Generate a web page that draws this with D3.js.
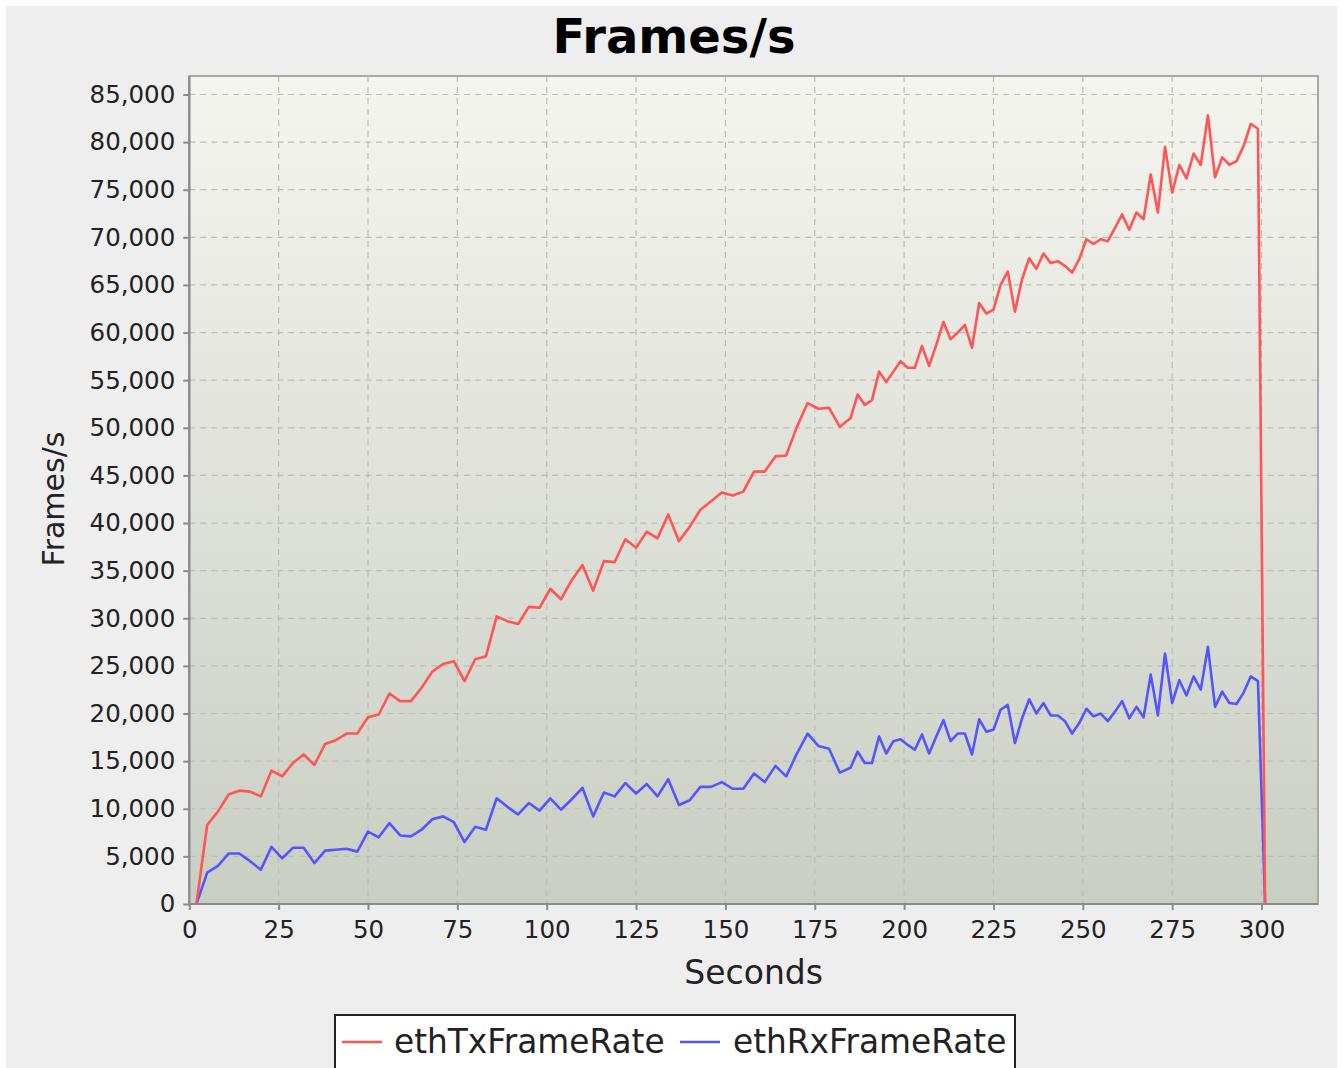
<!DOCTYPE html>
<html>
<head>
<meta charset="utf-8">
<script src="https://cdn.jsdelivr.net/npm/d3@7"></script>
<style>
html,body{margin:0;padding:0;background:#fff;}
svg{display:block;}
</style>
</head>
<body>
<svg id="chart" width="1343" height="1068"></svg>
<script>
// ---- data ----
const times = [2,5,8,11,14,17,20,23,26,29,32,35,38,41,44,47,50,53,56,59,62,65,68,71,74,77,80,83,86,89,
  92,95,98,101,104,107,110,113,116,119,122,125,128,131,134,137,140,143,146,149,152,155,158,161,164,167,170,173,176,179,182,
  185,187,189,191,193,195,197,199,201,203,205,207,209,211,213,215,217,219,221,223,225,227,229,231,233,235,237,239,241,243,
  245,247,249,251,253,255,257,259,261,263,265,267,269,271,273,275,277,279,281,283,285,287,289,291,293,295,297,299,301];

const ethTxFrameRate = [0,8300,9700,11500,11900,11800,11300,14000,13400,14800,15700,14600,16800,17200,17900,17900,19600,19900,22100,21300,
  21300,22700,24400,25200,25500,23400,25700,26000,30200,29700,29400,31200,31100,33100,32000,34000,35600,32900,36000,35900,
  38300,37400,39100,38400,40900,38100,39600,41400,42300,43200,42900,43300,45400,45400,47000,47100,50100,52600,52000,52100,50100,
  51000,53500,52400,52900,55900,54800,55900,57000,56300,56300,58600,56500,58700,61100,59300,60000,60800,58400,63100,62000,
  62400,65000,66400,62200,65600,67800,66700,68300,67300,67500,67000,66300,67700,69800,69300,69800,69600,71000,72400,70800,
  72600,71900,76600,72600,79500,74700,77600,76200,78800,77600,82800,76300,78400,77600,78000,79600,81900,81400,0];

const ethRxFrameRate = [0,3300,4000,5300,5300,4500,3600,6000,4800,5900,5900,4300,5600,5700,5800,5500,7600,7000,8500,7200,
  7100,7800,8900,9200,8600,6500,8100,7800,11100,10200,9400,10600,9800,11100,9900,11000,12200,9200,11700,11300,
  12700,11600,12600,11300,13100,10400,10900,12300,12300,12800,12100,12100,13700,12800,14500,13400,15800,17900,16600,16300,13800,
  14300,16000,14800,14800,17600,15800,17100,17300,16700,16200,17800,15800,17600,19300,17100,17900,17900,15700,19400,18100,
  18300,20400,20900,16900,19500,21500,20000,21100,19800,19800,19200,17900,19000,20500,19700,20000,19200,20200,21300,19500,
  20700,19600,24100,19800,26300,21100,23500,21900,23900,22500,27000,20700,22300,21100,21000,22200,23900,23400,0];

const seriesNames = ["ethTxFrameRate", "ethRxFrameRate"];
const seriesColors = ["#ff5555", "#5555ff"];
const xTicks = [0,25,50,75,100,125,150,175,200,225,250,275,300];
const yTicks = [0,5000,10000,15000,20000,25000,30000,35000,40000,45000,50000,55000,60000,65000,70000,75000,80000,85000];
const chartTitle = "Frames/s";
const xLabel = "Seconds";
const yLabel = "Frames/s";

// ---- layout ----
const svg = d3.select("#chart");
const L = 189.3, R = 1318, T = 76, B = 904;
const x = d3.scaleLinear().domain([0, 315.8]).range([L, R]);
const y = d3.scaleLinear().domain([0, 86940]).range([B, T]);
const FONT = "'DejaVu Sans', Verdana, sans-serif";

svg.append("rect").attr("x",0).attr("y",0).attr("width",1343).attr("height",1068).attr("fill","#ffffff");
svg.append("rect").attr("x",6).attr("y",6).attr("width",1331).attr("height",1070).attr("fill","#eeeeee");

const defs = svg.append("defs");
const grad = defs.append("linearGradient").attr("id","bg").attr("x1",0).attr("y1",0).attr("x2",0).attr("y2",1);
grad.append("stop").attr("offset","0%").attr("stop-color","#f5f5f0");
grad.append("stop").attr("offset","100%").attr("stop-color","#c9cec2");
defs.append("clipPath").attr("id","clip").append("rect")
  .attr("x",L).attr("y",T).attr("width",R-L).attr("height",B-T);

svg.append("rect").attr("x",L).attr("y",T).attr("width",R-L).attr("height",B-T).attr("fill","url(#bg)");

// gridlines
const grid = svg.append("g").attr("stroke","#bbbdb6").attr("stroke-width",1.2).attr("stroke-dasharray","6,5");
grid.selectAll("line.gx").data(xTicks.filter(d=>d>0)).join("line")
  .attr("x1",d=>x(d)).attr("x2",d=>x(d)).attr("y1",T).attr("y2",B);
grid.selectAll("line.gy").data(yTicks.filter(d=>d>0)).join("line")
  .attr("x1",L).attr("x2",R).attr("y1",d=>y(d)).attr("y2",d=>y(d));

// plot outline
svg.append("rect").attr("x",L).attr("y",T).attr("width",R-L).attr("height",B-T)
  .attr("fill","none").attr("stroke","#a8a8a8").attr("stroke-width",2);

// series
const pts = times.map((t,i)=>({t, tx: ethTxFrameRate[i], rx: ethRxFrameRate[i]}));
const gLines = svg.append("g").attr("clip-path","url(#clip)");
const lineRx = d3.line().x(d=>x(d.t)).y(d=>y(d.rx));
const lineTx = d3.line().x(d=>x(d.t)).y(d=>y(d.tx));
gLines.append("path").datum(pts).attr("d",lineRx).attr("fill","none")
  .attr("stroke",seriesColors[1]).attr("stroke-width",2.6).attr("stroke-linejoin","round");
gLines.append("path").datum(pts).attr("d",lineTx).attr("fill","none")
  .attr("stroke",seriesColors[0]).attr("stroke-width",2.6).attr("stroke-linejoin","round");

// axes
const fmt = d3.format(",");
const xAxis = d3.axisBottom(x).tickValues(xTicks).tickSize(6).tickPadding(11).tickFormat(d3.format("d"));
const yAxis = d3.axisLeft(y).tickValues(yTicks).tickSize(6).tickPadding(8).tickFormat(fmt);
const gx = svg.append("g").attr("transform",`translate(0,${B})`).call(xAxis);
const gy = svg.append("g").attr("transform",`translate(${L},0)`).call(yAxis);
[gx,gy].forEach(g=>{
  g.select(".domain").attr("stroke","#8a8a8a").attr("stroke-width",2.2);
  g.selectAll(".tick line").attr("stroke","#8a8a8a").attr("stroke-width",2);
  g.selectAll(".tick text").attr("font-family",FONT).attr("font-size","24.5px").attr("fill","#222");
});
gx.select(".domain").attr("d",`M${L},0H${R}`);
gy.select(".domain").attr("d",`M0,${T}V${B}`);

// titles
svg.append("text").attr("x",674).attr("y",53).attr("text-anchor","middle")
  .attr("font-family",FONT).attr("font-weight","bold").attr("font-size","48px").attr("fill","#000").text(chartTitle);
svg.append("text").attr("x",(L+R)/2).attr("y",984).attr("text-anchor","middle")
  .attr("font-family",FONT).attr("font-size","33px").attr("fill","#222").text(xLabel);
svg.append("text").attr("transform",`translate(64,499) rotate(-90)`).attr("text-anchor","middle")
  .attr("font-family",FONT).attr("font-size","30px").attr("fill","#222").text(yLabel);

// legend
const lg = svg.append("g");
lg.append("rect").attr("x",335).attr("y",1015).attr("width",680).attr("height",80)
  .attr("fill","#ffffff").attr("stroke","#222").attr("stroke-width",2);
const legendItems = [{x0:342, tx:394}, {x0:680, tx:733}];
seriesNames.forEach((name,i)=>{
  const it = legendItems[i];
  lg.append("line").attr("x1",it.x0).attr("x2",it.x0+40).attr("y1",1042).attr("y2",1042)
    .attr("stroke",seriesColors[i]).attr("stroke-width",2.6);
  lg.append("text").attr("x",it.tx).attr("y",1053).attr("font-family",FONT).attr("font-size","32.8px")
    .attr("fill","#222").text(name);
});
</script>
</body>
</html>
